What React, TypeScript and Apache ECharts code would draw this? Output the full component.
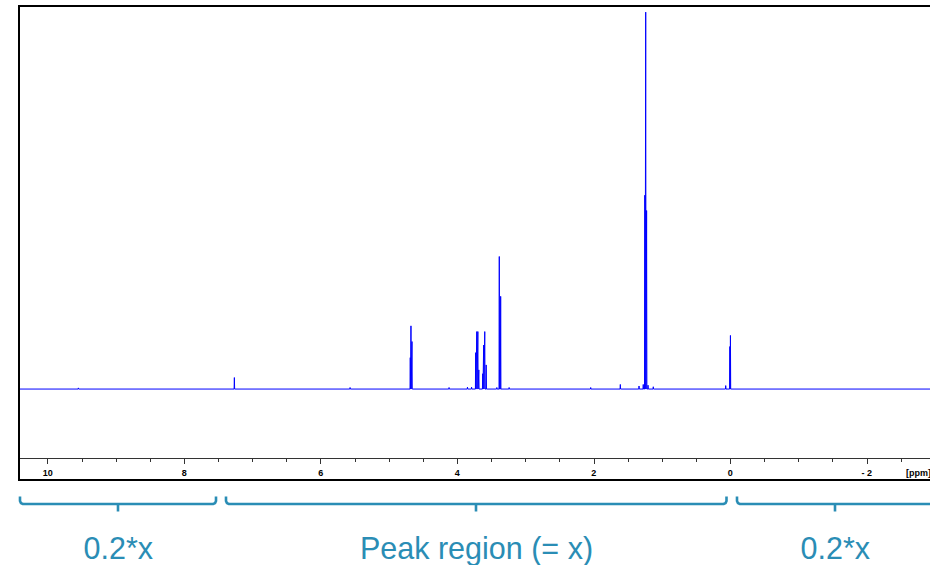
import { useEffect, useRef } from 'react';
import * as echarts from 'echarts';

// 1H NMR spectrum: line positions (ppm) and intensities (arbitrary units, baseline = 0)
const peakShifts = [
  9.55, 7.265, 5.57, 4.688, 4.678, 4.663, 4.12, 3.85, 3.79,
  3.730, 3.714, 3.698, 3.684, 3.627, 3.613, 3.597, 3.576,
  3.42, 3.384, 3.364, 3.24, 2.045, 1.611, 1.337, 1.275,
  1.252, 1.239, 1.226, 1.205, 1.128, 0.067, 0.006, -0.002,
];
const peakHeights = [
  0.3, 3.0, 0.4, 8.2, 16.5, 12.4, 0.4, 0.5, 0.5,
  9.5, 15.0, 15.0, 5.0, 4.0, 11.5, 15.0, 6.3,
  0.4, 34.6, 24.2, 0.4, 0.4, 1.2, 0.8, 1.2,
  50.6, 98.4, 46.6, 1.0, 0.6, 0.9, 11.1, 14.0,
];

// Axis ticks and labels
const tickValues = [10, 8, 6, 4, 2, 0, -2];
const tickLabels = ['10', '8', '6', '4', '2', '0', '- 2'];
const axisUnit = '[ppm]';

// Region annotations below the axis
const regionLabels = ['0.2*x', 'Peak region (= x)', '0.2*x'];

// Spectral window (ppm)
const PPM_MAX = 10.42;
const PPM_MIN = -4;

const TEAL = '#2a8db5';
const FONT = '"Liberation Sans", Arial, sans-serif';

function buildSpectrum(): [number, number][] {
  const half = 0.004;
  const pts: [number, number][] = [[PPM_MAX, 0]];
  peakShifts.forEach((p, i) => {
    pts.push([p + half, 0], [p, peakHeights[i]], [p - half, 0]);
  });
  pts.push([PPM_MIN, 0]);
  return pts;
}

function bracket(x0: number, x1: number, xc: number) {
  const y = 504;
  return [
    {
      type: 'polyline',
      silent: true,
      z: 50,
      shape: {
        points: [
          [x0, 496.5], [x0, 501], [x0 + 0.9, 503.1], [x0 + 3, y],
          [x1 - 3, y], [x1 - 0.9, 503.1], [x1, 501], [x1, 496.5],
        ],
      },
      style: { stroke: TEAL, lineWidth: 2.6, fill: null, lineJoin: 'round' },
    },
    {
      type: 'line',
      silent: true,
      z: 50,
      shape: { x1: xc, y1: y, x2: xc, y2: 511.5 },
      style: { stroke: TEAL, lineWidth: 2.6 },
    },
  ];
}

function regionText(text: string, x: number) {
  return {
    type: 'text',
    silent: true,
    z: 50,
    x,
    y: 547.5,
    style: {
      text,
      fill: TEAL,
      fontSize: 30.5,
      fontFamily: FONT,
      align: 'center',
      verticalAlign: 'middle',
    },
  };
}

export default function App() {
  const ref = useRef<HTMLDivElement>(null);

  useEffect(() => {
    if (!ref.current) return;
    const chart = echarts.init(ref.current, null, { renderer: 'svg' });

    const labelFor = (v: number) => {
      const i = tickValues.findIndex((t) => Math.abs(t - v) < 1e-6);
      return i >= 0 ? tickLabels[i] : '';
    };

    chart.setOption({
      animation: false,
      backgroundColor: '#fff',
      // the plot runs on past the right edge of the visible page
      grid: { left: 19, top: 6, width: 984.34, height: 452 },
      xAxis: [
        {
          type: 'value',
          min: PPM_MIN,
          max: PPM_MAX,
          inverse: true,
          interval: 2,
          position: 'bottom',
          axisLine: { show: true, onZero: false, lineStyle: { color: '#333', width: 1 } },
          axisTick: { show: true, length: 6, lineStyle: { color: '#333', width: 1 } },
          axisLabel: {
            formatter: labelFor,
            margin: 10,
            fontSize: 9,
            fontWeight: 'bold',
            color: '#000',
            fontFamily: FONT,
          },
          splitLine: { show: false },
        },
        {
          type: 'value',
          min: PPM_MIN,
          max: PPM_MAX,
          inverse: true,
          interval: 0.5,
          position: 'bottom',
          axisLine: { show: false, onZero: false },
          axisTick: { show: true, length: 4, lineStyle: { color: '#333', width: 1 } },
          axisLabel: { show: false },
          splitLine: { show: false },
        },
      ],
      yAxis: { type: 'value', min: -18, max: 100, show: false },
      series: [
        {
          type: 'line',
          xAxisIndex: 0,
          data: buildSpectrum(),
          symbol: 'none',
          showSymbol: false,
          lineStyle: { color: '#0000ff', width: 1 },
          silent: true,
          clip: true,
        },
      ],
      graphic: [
        {
          type: 'rect',
          silent: true,
          z: 100,
          shape: { x: 19, y: 6, width: 1000, height: 474 },
          style: { fill: 'transparent', stroke: '#000', lineWidth: 2 },
        },
        {
          type: 'text',
          silent: true,
          z: 100,
          x: 906,
          y: 473,
          style: {
            text: axisUnit,
            fill: '#000',
            fontSize: 9,
            fontWeight: 'bold',
            fontFamily: FONT,
            verticalAlign: 'middle',
          },
        },
        ...bracket(20, 216, 118),
        ...bracket(226, 726.5, 476),
        ...bracket(737, 1000, 835),
        regionText(regionLabels[0], 118.3),
        regionText(regionLabels[1], 476.5),
        regionText(regionLabels[2], 835.3),
      ],
    });

    return () => chart.dispose();
  }, []);

  return (
    <div style={{ position: 'absolute', left: 0, top: 0, width: 930, height: 565, overflow: 'hidden' }}>
      <div ref={ref} style={{ width: 1010, height: 565 }} />
    </div>
  );
}
